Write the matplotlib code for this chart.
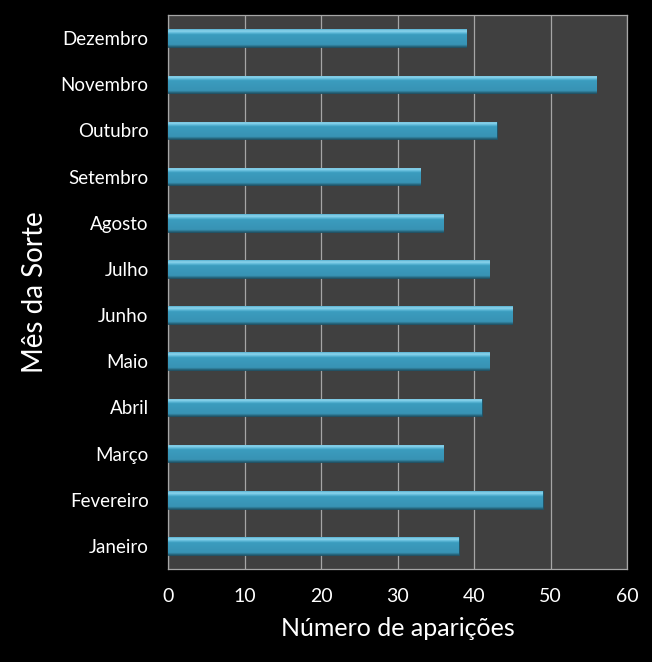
import numpy as np
import matplotlib
matplotlib.use("Agg")
import matplotlib.pyplot as plt

# Data
meses = ["Janeiro", "Fevereiro", "Março", "Abril", "Maio", "Junho",
         "Julho", "Agosto", "Setembro", "Outubro", "Novembro", "Dezembro"]
aparicoes = [38, 49, 36, 41, 42, 45, 42, 36, 33, 43, 56, 39]

plt.rcParams["font.family"] = ["Lato", "DejaVu Sans"]

fig = plt.figure(figsize=(6.52, 6.62), dpi=100, facecolor="black")
ax = fig.add_axes([0.2577, 0.1405, 0.704, 0.8368])
ax.set_facecolor("#404040")

y = np.arange(len(meses))
bars = ax.barh(y, aparicoes, height=0.38, color="#3a9bbd",
               edgecolor="#1d4f62", linewidth=0.6, zorder=3)

# vertical gradient to fake the bevelled 3D look
stops = [0.0, 0.12, 0.7, 0.8, 0.9, 1.0]
cols = ["#235f74", "#3893b4", "#3b9cbf", "#62bcdb", "#8ed5ed", "#5bb3d2"]
cmap = matplotlib.colors.LinearSegmentedColormap.from_list("bev", list(zip(stops, cols)))
grad = np.linspace(0, 1, 40).reshape(-1, 1)
for b in bars:
    im = ax.imshow(grad, cmap=cmap, aspect="auto", origin="lower",
                   extent=(b.get_x(), b.get_x() + b.get_width(),
                           b.get_y(), b.get_y() + b.get_height()),
                   zorder=3.5, interpolation="bilinear")
    im.set_clip_path(b)

ax.set_xlim(0, 60)
ax.set_ylim(-0.5, len(meses) - 0.5)
ax.set_xticks(range(0, 61, 10))
ax.set_yticks(y)
ax.set_yticklabels(meses)

ax.grid(axis="x", color="#a6a6a6", linewidth=0.9, zorder=1)
ax.set_axisbelow(True)
for s in ax.spines.values():
    s.set_color("#a6a6a6")
    s.set_linewidth(0.9)

ax.tick_params(axis="y", length=0, pad=14, labelsize=13.5, colors="white")
ax.tick_params(axis="x", length=0, pad=14, labelsize=14, colors="white")

ax.set_xlabel("Número de aparições", fontsize=18, color="white", labelpad=8)
ax.set_ylabel("Mês da Sorte", fontsize=20, color="white", labelpad=9)

fig.savefig("out.png", dpi=100, facecolor="black")
